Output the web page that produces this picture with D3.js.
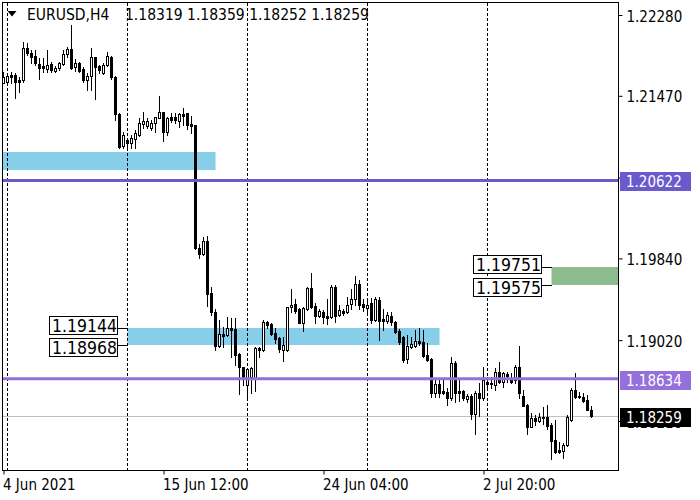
<!DOCTYPE html>
<html>
<head>
<meta charset="utf-8">
<script src="https://cdn.jsdelivr.net/npm/d3@7"></script>
<style>
	body { margin: 0; background: #fff; }
	svg text { font-family: "DejaVu Sans Condensed", "DejaVu Sans", sans-serif; font-stretch: condensed; }
</style>
</head>
<body>
<div id="chart"></div>
<script>
// EURUSD H4 candles (bar 0 = 4 Jun 20:00)
const opens = [
	1.21601, 1.21611, 1.21675, 1.21678, 1.21628, 1.21628, 1.21946, 1.21896, 1.21869, 1.21789,
	1.21769, 1.21736, 1.21789, 1.21719, 1.21746, 1.21789, 1.21886, 1.21936, 1.21756, 1.21796,
	1.21736, 1.21628, 1.21668, 1.21856, 1.21769, 1.21702, 1.21779, 1.21862, 1.21655, 1.21288,
	1.20967, 1.21027, 1.21000, 1.21034, 1.21077, 1.21187, 1.21167, 1.21144, 1.21194, 1.21250,
	1.21305, 1.21110, 1.21260, 1.21260, 1.21220, 1.21285, 1.21295, 1.21190, 1.21177, 1.19947,
	1.19881, 1.20014, 1.19490, 1.19306, 1.18965, 1.19079, 1.19072, 1.19139, 1.19132, 1.18878,
	1.18748, 1.18570, 1.18654, 1.18638, 1.18939, 1.18922, 1.19205, 1.19182, 1.19089, 1.19039,
	1.18922, 1.18922, 1.19350, 1.19383, 1.19330, 1.19195, 1.19330, 1.19540, 1.19363, 1.19262,
	1.19306, 1.19262, 1.19255, 1.19550, 1.19272, 1.19316, 1.19306, 1.19380, 1.19430, 1.19583,
	1.19383, 1.19340, 1.19390, 1.19222, 1.19423, 1.19232, 1.19215, 1.19262, 1.19205, 1.19115,
	1.19049, 1.18828, 1.18955, 1.18962, 1.19015, 1.19005, 1.18871, 1.18828, 1.18493, 1.18581,
	1.18511, 1.18504, 1.18437, 1.18794, 1.18511, 1.18511, 1.18430, 1.18460, 1.18280, 1.18487,
	1.18437, 1.18604, 1.18588, 1.18571, 1.18704, 1.18604, 1.18681, 1.18621, 1.18621, 1.18754,
	1.18460, 1.18370, 1.18153, 1.18237, 1.18213, 1.18247, 1.18247, 1.18170, 1.18019, 1.17919,
	1.17912, 1.17969, 1.18220, 1.18521, 1.18460, 1.18454, 1.18420, 1.18319
];
const highs = [
	1.21712, 1.21678, 1.21712, 1.21695, 1.21661, 1.22012, 1.21996, 1.21929, 1.21929, 1.21846,
	1.21846, 1.21929, 1.21812, 1.21769, 1.21812, 1.21929, 1.21962, 1.22180, 1.21836, 1.21812,
	1.21762, 1.21695, 1.21946, 1.21862, 1.21779, 1.21796, 1.21912, 1.21869, 1.21668, 1.21295,
	1.21110, 1.21034, 1.21077, 1.21127, 1.21244, 1.21310, 1.21244, 1.21227, 1.21260, 1.21468,
	1.21310, 1.21260, 1.21295, 1.21301, 1.21295, 1.21345, 1.21301, 1.21272, 1.21182, 1.19981,
	1.20051, 1.20064, 1.19556, 1.19333, 1.19225, 1.19155, 1.19255, 1.19239, 1.19239, 1.18888,
	1.18754, 1.18738, 1.18754, 1.18949, 1.18955, 1.19222, 1.19215, 1.19189, 1.19139, 1.19049,
	1.19049, 1.19356, 1.19530, 1.19430, 1.19340, 1.19350, 1.19550, 1.19697, 1.19390, 1.19330,
	1.19323, 1.19430, 1.19573, 1.19573, 1.19373, 1.19330, 1.19456, 1.19530, 1.19663, 1.19623,
	1.19430, 1.19423, 1.19440, 1.19450, 1.19456, 1.19330, 1.19306, 1.19306, 1.19215, 1.19129,
	1.19062, 1.19072, 1.19049, 1.19122, 1.19139, 1.19122, 1.18995, 1.18838, 1.18621, 1.18621,
	1.18621, 1.18537, 1.18854, 1.18814, 1.18621, 1.18521, 1.18481, 1.18481, 1.18511, 1.18588,
	1.18754, 1.18654, 1.18654, 1.18738, 1.18804, 1.18704, 1.18704, 1.18694, 1.18771, 1.18962,
	1.18521, 1.18380, 1.18287, 1.18270, 1.18287, 1.18347, 1.18370, 1.18187, 1.18220, 1.18002,
	1.17986, 1.18270, 1.18537, 1.18694, 1.18504, 1.18494, 1.18470, 1.18359
];
const lows = [
	1.21595, 1.21598, 1.21601, 1.21445, 1.21511, 1.21611, 1.21879, 1.21796, 1.21779, 1.21635,
	1.21712, 1.21712, 1.21712, 1.21712, 1.21729, 1.21779, 1.21862, 1.21736, 1.21722, 1.21712,
	1.21611, 1.21528, 1.21528, 1.21435, 1.21702, 1.21689, 1.21769, 1.21638, 1.21227, 1.20944,
	1.20944, 1.20960, 1.20944, 1.20944, 1.21067, 1.21144, 1.21144, 1.21127, 1.21110, 1.21244,
	1.21020, 1.21077, 1.21210, 1.21194, 1.21160, 1.21177, 1.21134, 1.21094, 1.19934, 1.19841,
	1.19874, 1.19363, 1.19272, 1.18922, 1.18955, 1.18955, 1.19062, 1.18854, 1.18771, 1.18480,
	1.18570, 1.18420, 1.18490, 1.18514, 1.18854, 1.18915, 1.19139, 1.19072, 1.18995, 1.18905,
	1.18815, 1.18915, 1.19306, 1.19293, 1.19189, 1.19115, 1.19323, 1.19340, 1.19195, 1.19255,
	1.19195, 1.19182, 1.19239, 1.19205, 1.19262, 1.19272, 1.19293, 1.19330, 1.19373, 1.19330,
	1.19316, 1.19272, 1.19195, 1.19215, 1.19022, 1.19122, 1.19195, 1.19172, 1.19095, 1.18982,
	1.18805, 1.18788, 1.18939, 1.18949, 1.18972, 1.18854, 1.18815, 1.18453, 1.18453, 1.18453,
	1.18480, 1.18370, 1.18420, 1.18403, 1.18413, 1.18423, 1.18403, 1.18227, 1.18080, 1.18260,
	1.18420, 1.18521, 1.18537, 1.18521, 1.18588, 1.18554, 1.18604, 1.18594, 1.18588, 1.18437,
	1.18360, 1.18080, 1.18147, 1.18170, 1.18196, 1.18180, 1.18127, 1.17826, 1.17894, 1.17886,
	1.17842, 1.17959, 1.18213, 1.18437, 1.18437, 1.18403, 1.18320, 1.18252
];
const closes = [
	1.21661, 1.21668, 1.21661, 1.21611, 1.21611, 1.21946, 1.21896, 1.21862, 1.21796, 1.21752,
	1.21746, 1.21779, 1.21729, 1.21746, 1.21796, 1.21889, 1.21936, 1.21752, 1.21802, 1.21722,
	1.21628, 1.21668, 1.21856, 1.21762, 1.21729, 1.21779, 1.21869, 1.21655, 1.21288, 1.20960,
	1.21077, 1.21000, 1.21044, 1.21094, 1.21194, 1.21220, 1.21220, 1.21200, 1.21254, 1.21305,
	1.21110, 1.21244, 1.21227, 1.21227, 1.21285, 1.21268, 1.21177, 1.21169, 1.19941, 1.19881,
	1.20014, 1.19480, 1.19305, 1.18962, 1.19079, 1.19062, 1.19139, 1.19122, 1.18871, 1.18748,
	1.18638, 1.18728, 1.18738, 1.18939, 1.18922, 1.19205, 1.19172, 1.19082, 1.19029, 1.18929,
	1.18972, 1.19350, 1.19373, 1.19313, 1.19195, 1.19340, 1.19540, 1.19350, 1.19262, 1.19316,
	1.19249, 1.19245, 1.19556, 1.19262, 1.19323, 1.19296, 1.19373, 1.19430, 1.19583, 1.19373,
	1.19356, 1.19373, 1.19222, 1.19430, 1.19215, 1.19215, 1.19272, 1.19205, 1.19105, 1.19005,
	1.18821, 1.18962, 1.18982, 1.19015, 1.18995, 1.18861, 1.18821, 1.18493, 1.18581, 1.18493,
	1.18487, 1.18437, 1.18794, 1.18487, 1.18494, 1.18437, 1.18460, 1.18280, 1.18487, 1.18437,
	1.18621, 1.18578, 1.18578, 1.18704, 1.18604, 1.18688, 1.18661, 1.18604, 1.18754, 1.18494,
	1.18365, 1.18153, 1.18237, 1.18213, 1.18247, 1.18237, 1.18160, 1.18012, 1.17902, 1.17902,
	1.17969, 1.18247, 1.18521, 1.18454, 1.18447, 1.18413, 1.18325, 1.18259
];

const yTicks = [1.22280, 1.21470, 1.20650, 1.19840, 1.19020, 1.18210];
const xTickBars = [0, 40, 80, 120];
const xTickLabels = ["4 Jun 2021", "15 Jun 12:00", "24 Jun 04:00", "2 Jul 20:00"];
const weekStarts = [1, 31, 61, 91, 121];

const levelPrices = [1.20622, 1.18634];
const levelColors = ["#6a5acd", "#9370db"];
const bidPrice = 1.18259;

const zoneTops = [1.20907, 1.19144, 1.19751];
const zoneBottoms = [1.20726, 1.18968, 1.19575];
const zoneFrom = [-10, 31, 137];
const zoneTo = [53, 109, 170];
const zoneColors = ["#87ceeb", "#87ceeb", "#8fbc8f"];
const zoneLabelled = [false, true, true];

const symbol = "EURUSD,H4";

const width = 700, height = 500;
const plot = { left: 3, top: 3, right: 618, bottom: 470 };

const fmt = d3.format(".5f");

// 4px per bar, bar 0 centred on the left border
const x = d3.scaleLinear().domain([0, 1]).range([3.5, 7.5]);
const y = d3.scaleLinear().domain([1.22280, 1.18210]).range([15, 421]);
const py = (p) => Math.round(y(p));

const svg = d3
	.select("#chart")
	.append("svg")
	.attr("width", width)
	.attr("height", height);

svg.append("rect").attr("width", width).attr("height", height).attr("fill", "#fff");

svg
	.append("defs")
	.append("clipPath")
	.attr("id", "plot-clip")
	.append("rect")
	.attr("x", plot.left)
	.attr("y", plot.top)
	.attr("width", plot.right - plot.left)
	.attr("height", plot.bottom - plot.top);

const g = svg.append("g").attr("clip-path", "url(#plot-clip)");

const zones = d3.range(zoneTops.length);

// rectangles behind everything
g.selectAll(".zone")
	.data(zones)
	.enter()
	.append("rect")
	.attr("class", "zone")
	.attr("x", (i) => x(zoneFrom[i]))
	.attr("y", (i) => py(zoneTops[i]))
	.attr("width", (i) => x(zoneTo[i]) - x(zoneFrom[i]))
	.attr("height", (i) => py(zoneBottoms[i]) - py(zoneTops[i]))
	.attr("fill", (i) => zoneColors[i]);

// weekly separators
g.selectAll(".sep")
	.data(weekStarts)
	.enter()
	.append("line")
	.attr("class", "sep")
	.attr("x1", (d) => x(d))
	.attr("x2", (d) => x(d))
	.attr("y1", plot.top)
	.attr("y2", plot.bottom)
	.attr("stroke", "#000")
	.attr("stroke-dasharray", "3,2");

// bid line
g.append("line")
	.attr("x1", plot.left)
	.attr("x2", plot.right)
	.attr("y1", py(bidPrice) + 0.5)
	.attr("y2", py(bidPrice) + 0.5)
	.attr("stroke", "#c0c0c0");

// candles
const bars = d3.range(opens.length);
const candle = g.selectAll(".candle").data(bars).enter().append("g").attr("class", "candle");

candle
	.append("line")
	.attr("x1", (i) => x(i))
	.attr("x2", (i) => x(i))
	.attr("y1", (i) => py(highs[i]))
	.attr("y2", (i) => py(lows[i]) + 1)
	.attr("stroke", "#000");

candle
	.append("rect")
	.each(function (i) {
		const top = py(Math.max(opens[i], closes[i]));
		const bot = Math.max(py(Math.min(opens[i], closes[i])), top + 1);
		const el = d3.select(this);
		if (closes[i] > opens[i] && bot - top >= 2) {
			el.attr("x", x(i) - 1)
				.attr("y", top + 0.5)
				.attr("width", 2)
				.attr("height", bot - top)
				.attr("fill", "#fff")
				.attr("stroke", "#000");
		} else {
			el.attr("x", x(i) - 1.5)
				.attr("y", top)
				.attr("width", 3)
				.attr("height", bot - top + 1)
				.attr("fill", "#000");
		}
	});

// horizontal levels on top of the candles
g.selectAll(".level")
	.data(levelPrices)
	.enter()
	.append("line")
	.attr("class", "level")
	.attr("x1", plot.left)
	.attr("x2", plot.right)
	.attr("y1", (d) => y(d))
	.attr("y2", (d) => y(d))
	.attr("stroke", (d, i) => levelColors[i])
	.attr("stroke-width", 3);

// frame
svg.append("rect")
	.attr("x", plot.left - 0.5)
	.attr("y", plot.top - 0.5)
	.attr("width", plot.right - plot.left + 1)
	.attr("height", plot.bottom - plot.top + 1)
	.attr("fill", "none")
	.attr("stroke", "#000");

// price axis
const yAxis = svg
	.append("g")
	.attr("transform", `translate(${plot.right + 0.5},0)`)
	.call(d3.axisRight(y).tickValues(yTicks).tickFormat(fmt).tickSize(4).tickPadding(4));
yAxis.select(".domain").remove();
yAxis.selectAll("text")
	.attr("dy", "0.4em")
	.style("font-size", "15px")
	.attr("fill", "#000");

// time axis
const xAxis = svg
	.append("g")
	.attr("transform", `translate(0,${plot.bottom + 0.5})`)
	.call(
		d3.axisBottom(x)
			.tickValues(xTickBars)
			.tickFormat((d, i) => xTickLabels[i])
			.tickSize(4)
			.tickPadding(5)
	);
xAxis.select(".domain").remove();
xAxis.selectAll("text")
	.attr("text-anchor", "start")
	.attr("dx", "-1")
	.style("font-size", "15px")
	.attr("fill", "#000");

// price tags on the axis
const tagPrices = levelPrices.concat([bidPrice]);
const tagColors = levelColors.concat(["#000"]);

const tag = svg.selectAll(".tag").data(tagPrices).enter().append("g").attr("class", "tag");
tag.append("rect")
	.attr("x", plot.right + 2)
	.attr("y", (d) => py(d) - 8)
	.attr("width", 71)
	.attr("height", 19)
	.attr("fill", (d, i) => tagColors[i]);
tag.append("text")
	.attr("x", plot.right + 8)
	.attr("y", (d) => py(d) + 7)
	.style("font-size", "15px")
	.attr("fill", "#fff")
	.text((d) => fmt(d));

// price boxes of the labelled rectangles
function add_price_box(px, top, label) {
	svg.append("rect")
		.attr("x", px - 78.5)
		.attr("y", top + 0.5)
		.attr("width", 68)
		.attr("height", 18)
		.attr("fill", "#fff")
		.attr("stroke", "#000");
	svg.append("text")
		.attr("x", px - 76)
		.attr("y", top + 16)
		.style("font-size", "17.5px")
		.attr("fill", "#000")
		.text(label);
}

zones.filter((i) => zoneLabelled[i]).forEach((i) => {
	const px = Math.round(x(zoneFrom[i]));
	const yt = py(zoneTops[i]);
	const yb = py(zoneBottoms[i]);
	[yt, yb].forEach((yy) => {
		svg.append("line")
			.attr("x1", px - 10)
			.attr("x2", px)
			.attr("y1", yy + 0.5)
			.attr("y2", yy + 0.5)
			.attr("stroke", "#000");
	});
	add_price_box(px, yt - 12, fmt(zoneTops[i]));
	add_price_box(px, yb - 7, fmt(zoneBottoms[i]));
});

// title
const last = opens.length - 1;
svg.append("path")
	.attr("d", "M7.5,11L16.5,11L12,16.5Z")
	.attr("fill", "#000");
const title = svg.append("text").attr("y", 20).style("font-size", "15.5px").attr("fill", "#000");
title.append("tspan").attr("x", 27).text(symbol);
title.append("tspan")
	.attr("x", 125)
	.text([opens[last], highs[last], lows[last], closes[last]].map(fmt).join(" "));
</script>
</body>
</html>
